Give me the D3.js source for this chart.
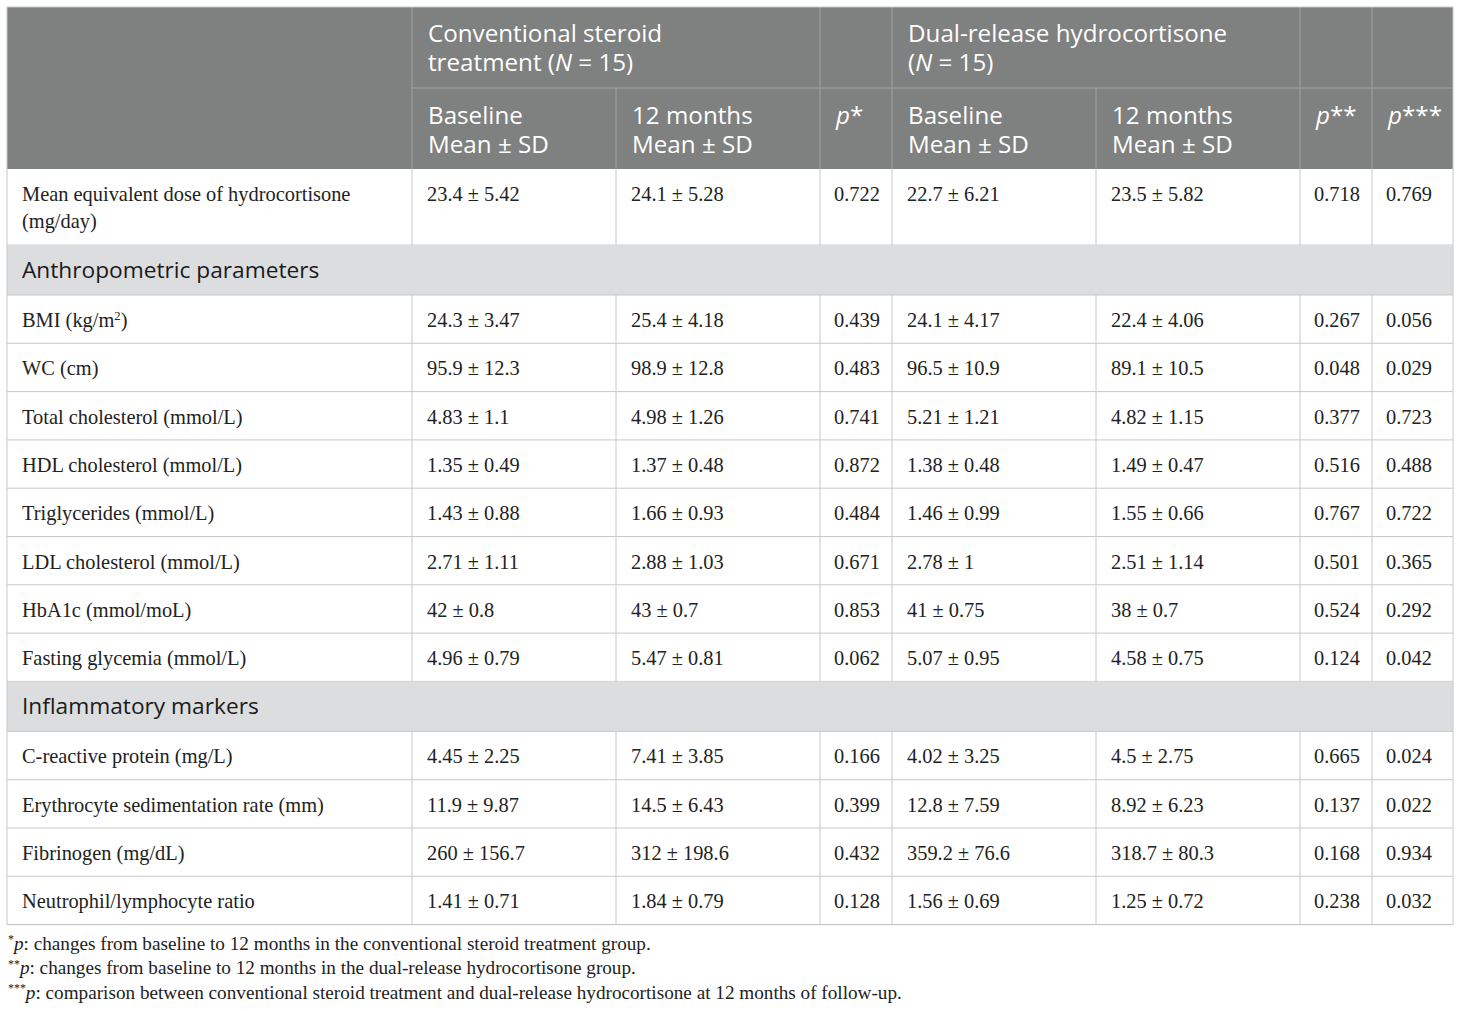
<!DOCTYPE html>
<html>
<head>
<meta charset="utf-8">
<script src="https://cdn.jsdelivr.net/npm/d3@7/dist/d3.min.js"></script>
<style>
  body { margin: 0; background: #fff; }
</style>
</head>
<body>
<svg id="table" width="1460" height="1011"></svg>
<script>
// ---- data ----
let groupHeaders = [["Conventional steroid", "treatment (_N_ = 15)"], ["Dual-release hydrocortisone", "(_N_ = 15)"]];
let subHeaders = [["Baseline", "Mean ± SD"], ["12 months", "Mean ± SD"], ["_p_*"],
                  ["Baseline", "Mean ± SD"], ["12 months", "Mean ± SD"], ["_p_**"], ["_p_***"]];

let rowLabels = ["Mean equivalent dose of hydrocortisone (mg/day)", "BMI (kg/m^2)", "WC (cm)",
  "Total cholesterol (mmol/L)", "HDL cholesterol (mmol/L)", "Triglycerides (mmol/L)",
  "LDL cholesterol (mmol/L)", "HbA1c (mmol/moL)", "Fasting glycemia (mmol/L)",
  "C-reactive protein (mg/L)", "Erythrocyte sedimentation rate (mm)", "Fibrinogen (mg/dL)",
  "Neutrophil/lymphocyte ratio"];

// section titles and the row index they come before
let sections = ["Anthropometric parameters", "Inflammatory markers"];
let sectionBefore = [1, 9];

let convBaseMean = [23.4, 24.3, 95.9, 4.83, 1.35, 1.43, 2.71, 42, 4.96, 4.45, 11.9, 260, 1.41];
let convBaseSD   = [5.42, 3.47, 12.3, 1.1, 0.49, 0.88, 1.11, 0.8, 0.79, 2.25, 9.87, 156.7, 0.71];
let conv12Mean   = [24.1, 25.4, 98.9, 4.98, 1.37, 1.66, 2.88, 43, 5.47, 7.41, 14.5, 312, 1.84];
let conv12SD     = [5.28, 4.18, 12.8, 1.26, 0.48, 0.93, 1.03, 0.7, 0.81, 3.85, 6.43, 198.6, 0.79];
let pConv        = [0.722, 0.439, 0.483, 0.741, 0.872, 0.484, 0.671, 0.853, 0.062, 0.166, 0.399, 0.432, 0.128];

let dualBaseMean = [22.7, 24.1, 96.5, 5.21, 1.38, 1.46, 2.78, 41, 5.07, 4.02, 12.8, 359.2, 1.56];
let dualBaseSD   = [6.21, 4.17, 10.9, 1.21, 0.48, 0.99, 1, 0.75, 0.95, 3.25, 7.59, 76.6, 0.69];
let dual12Mean   = [23.5, 22.4, 89.1, 4.82, 1.49, 1.55, 2.51, 38, 4.58, 4.5, 8.92, 318.7, 1.25];
let dual12SD     = [5.82, 4.06, 10.5, 1.15, 0.47, 0.66, 1.14, 0.7, 0.75, 2.75, 6.23, 80.3, 0.72];
let pDual        = [0.718, 0.267, 0.048, 0.377, 0.516, 0.767, 0.501, 0.524, 0.124, 0.665, 0.137, 0.168, 0.238];
let pBetween     = [0.769, 0.056, 0.029, 0.723, 0.488, 0.722, 0.365, 0.292, 0.042, 0.024, 0.022, 0.934, 0.032];

let footnotes = ["^*_p_: changes from baseline to 12 months in the conventional steroid treatment group.",
  "^**_p_: changes from baseline to 12 months in the dual-release hydrocortisone group.",
  "^***_p_: comparison between conventional steroid treatment and dual-release hydrocortisone at 12 months of follow-up."];

// ---- layout ----
let colEdges = [7, 412, 616, 820, 892, 1096, 1300, 1372, 1453];
let tableTop = 7, headRowH = 81, rowH = 48.3, wrapRowH = 76, sectionH = 50;
let padX = 15;
let serif = "'Liberation Serif', 'Times New Roman', serif";
let sans = "'Open Sans', 'Noto Sans', sans-serif";
let headBg = "#7f8080", sectionBg = "#dcdddf";
let lineCol = "#c8c8c8", headLine = "#a3a3a3";
let headFont = 24.2, dataFont = 20.4, sectionFont = 22.7, noteFont = 19.2;

let svg = d3.select("#table");
let fmtP = d3.format(".3f");
let pm = (m, s) => `${m} ± ${s}`;

// rich text: _x_ italic, ^x superscript (up to next _ or space)
function rich(textSel, str) {
  let re = /(_[^_]+_|\^[^_\s)]+)/g;
  let parts = str.split(re).filter(s => s !== "");
  let lift = false;
  parts.forEach(p => {
    if (p.startsWith("_")) {
      textSel.append("tspan").attr("font-style", "italic").attr("dy", lift ? "0.34em" : null).text(p.slice(1, -1));
      lift = false;
    } else if (p.startsWith("^")) {
      textSel.append("tspan").attr("font-size", "0.62em").attr("dy", "-0.55em").text(p.slice(1));
      lift = true;
    } else {
      textSel.append("tspan").attr("dy", lift ? "0.34em" : null).text(p);
      lift = false;
    }
  });
}

// ---- header ----
let g = svg.append("g");

g.append("rect").attr("x", colEdges[0]).attr("y", tableTop)
  .attr("width", colEdges[8] - colEdges[0]).attr("height", headRowH * 2)
  .attr("fill", headBg);

let groupCols = [1, 4];
groupHeaders.forEach((lines, i) => {
  lines.forEach((ln, j) => {
    let t = g.append("text").attr("font-family", sans).attr("font-size", headFont).attr("fill", "#fff")
      .attr("x", colEdges[groupCols[i]] + padX + 1).attr("y", tableTop + 35 + j * 29);
    rich(t, ln);
  });
});
subHeaders.forEach((lines, i) => {
  lines.forEach((ln, j) => {
    let t = g.append("text").attr("font-family", sans).attr("font-size", headFont).attr("fill", "#fff")
      .attr("x", colEdges[i + 1] + padX + 1).attr("y", tableTop + headRowH + 36 + j * 29);
    rich(t, ln);
  });
});
// header grid
g.append("line").attr("x1", colEdges[1]).attr("x2", colEdges[8])
  .attr("y1", tableTop + headRowH).attr("y2", tableTop + headRowH).attr("stroke", headLine);
colEdges.slice(1, 8).forEach((x, i) => {
  let spansTop = (i + 1 === 2 || i + 1 === 5); // inside merged group headers
  g.append("line").attr("x1", x).attr("x2", x)
    .attr("y1", spansTop ? tableTop + headRowH : tableTop).attr("y2", tableTop + headRowH * 2)
    .attr("stroke", headLine);
});

// ---- body ----
let y = tableTop + headRowH * 2;
let cellLines = [];

function wrapText(str, width, font) {
  let tmp = svg.append("text").attr("font-family", serif).attr("font-size", font).attr("visibility", "hidden");
  let words = str.split(" "), lines = [], cur = "";
  words.forEach(w => {
    let test = cur ? cur + " " + w : w;
    tmp.text(test.replace(/\^/g, ""));
    if (tmp.node().getComputedTextLength() > width && cur) { lines.push(cur); cur = w; }
    else cur = test;
  });
  lines.push(cur);
  tmp.remove();
  return lines;
}

rowLabels.forEach((label, r) => {
  let s = sectionBefore.indexOf(r);
  if (s >= 0) {
    g.append("rect").attr("x", colEdges[0]).attr("y", y)
      .attr("width", colEdges[8] - colEdges[0]).attr("height", sectionH).attr("fill", sectionBg);
    g.append("text").attr("x", colEdges[0] + padX).attr("y", y + 33)
      .attr("font-family", sans).attr("font-size", sectionFont).attr("fill", "#1a1a1a").text(sections[s]);
    g.append("line").attr("x1", colEdges[0]).attr("x2", colEdges[8])
      .attr("y1", y + sectionH).attr("y2", y + sectionH).attr("stroke", lineCol);
    y += sectionH;
  }
  let lines = wrapText(label, colEdges[1] - colEdges[0] - padX * 2, dataFont);
  let h = lines.length > 1 ? wrapRowH : rowH;
  let values = [label, pm(convBaseMean[r], convBaseSD[r]), pm(conv12Mean[r], conv12SD[r]), fmtP(pConv[r]),
                pm(dualBaseMean[r], dualBaseSD[r]), pm(dual12Mean[r], dual12SD[r]), fmtP(pDual[r]), fmtP(pBetween[r])];
  values.forEach((v, c) => {
    let ls = c === 0 ? lines : [v];
    let px = (c === 3 || c >= 6) ? 14 : padX;
    ls.forEach((ln, j) => {
      let t = g.append("text").attr("font-family", serif).attr("font-size", dataFont).attr("fill", "#222")
        .attr("x", colEdges[c] + px).attr("y", y + 32 + j * 27);
      rich(t, ln);
    });
  });
  cellLines.push({ y0: y, y1: y + h });
  y += h;
  g.append("line").attr("x1", colEdges[0]).attr("x2", colEdges[8])
    .attr("y1", y).attr("y2", y).attr("stroke", lineCol);
});
let tableBottom = y;

// vertical lines in data rows only (section rows have none)
cellLines.forEach(d => {
  colEdges.slice(1, 8).forEach(x => {
    g.append("line").attr("x1", x).attr("x2", x).attr("y1", d.y0).attr("y2", d.y1).attr("stroke", lineCol);
  });
});
// outer border
g.append("rect").attr("x", colEdges[0]).attr("y", tableTop)
  .attr("width", colEdges[8] - colEdges[0]).attr("height", tableBottom - tableTop)
  .attr("fill", "none").attr("stroke", lineCol);

// ---- footnotes ----
let fn = svg.append("g").attr("transform", `translate(8, ${tableBottom + 25})`);
footnotes.forEach((f, i) => {
  let t = fn.append("text").attr("y", i * 24.5).attr("font-family", serif).attr("font-size", noteFont)
    .attr("fill", "#222");
  rich(t, f);
});
</script>
</body>
</html>
